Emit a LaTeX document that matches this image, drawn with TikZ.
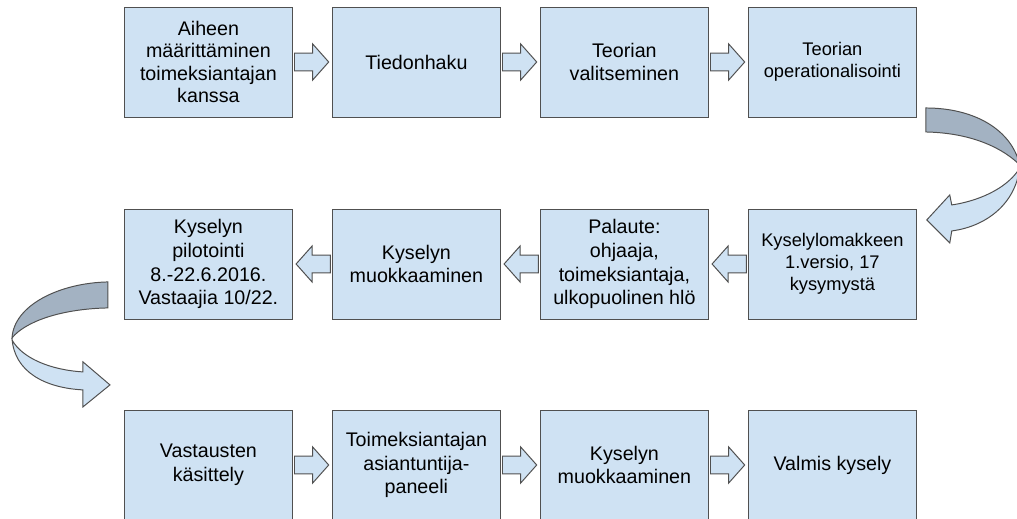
\documentclass[tikz,border=0pt]{standalone}
\usepackage{fontspec}
\setmainfont{Liberation Sans}
\usetikzlibrary{calc}
\usetikzlibrary{positioning}
\definecolor{boxblue}{HTML}{CFE2F3}
\definecolor{boxline}{HTML}{505050}
\definecolor{ribbongray}{HTML}{A3B2C2}
\tikzstyle{stepnode} = [draw=boxline, line width=0.7pt, fill=boxblue, minimum width=4.22cm, minimum height=2.75cm, align=center, inner sep=1pt, font=\fontsize{14}{17}\selectfont]
\tikzstyle{smalltext} = [font=\fontsize{13}{15.5}\selectfont]
\tikzstyle{arrowfill} = [draw=boxline, line width=0.7pt, fill=boxblue, line join=miter]
\tikzstyle{ribbonback} = [draw=boxline, line width=0.7pt, fill=ribbongray]
\newcommand{\flowarrow}[2]{%
  \coordinate (fa_s) at ($(#1)!0.03cm!(#2)$);
  \coordinate (fa_t) at ($(#2)!0.07cm!(#1)$);
  \coordinate (fa_h) at ($(fa_t)!0.4cm!(fa_s)$);
  \draw[arrowfill] ($(fa_s)!0.22cm!90:(fa_t)$) -- ($(fa_h)!0.22cm!90:(fa_t)$)
    -- ($(fa_h)!0.45cm!90:(fa_t)$) -- (fa_t) -- ($(fa_h)!0.45cm!-90:(fa_t)$)
    -- ($(fa_h)!0.22cm!-90:(fa_t)$) -- ($(fa_s)!0.22cm!-90:(fa_t)$) -- cycle;
}

\begin{document}
\begin{tikzpicture}
\useasboundingbox (0,0) rectangle (25.425,12.95);

% first row
\node[stepnode, font=\fontsize{14}{15.8}\selectfont] (aiheen) at (5.21,11.4) {Aiheen\\määrittäminen\\toimeksiantajan\\kanssa};
\node[stepnode] (tiedonhaku) at ($(aiheen)+(5.2,0)$) {Tiedonhaku};
\node[stepnode] (valinta) at ($(tiedonhaku)+(5.2,0)$) {Teorian\\valitseminen};
\node[stepnode, smalltext] (operationalisointi) at ($(valinta)+(5.2,0)$) {Teorian\\operationalisointi};

% second row
\node[stepnode, smalltext] (versio1) at ($(operationalisointi)+(0,-5.05)$) {Kyselylomakkeen\\1.versio, 17\\kysymystä};
\node[stepnode] (palaute) at ($(versio1)+(-5.2,0)$) {Palaute:\\ohjaaja,\\toimeksiantaja,\\ulkopuolinen hlö};
\node[stepnode] (muokkaus1) at ($(palaute)+(-5.2,0)$) {Kyselyn\\muokkaaminen};
\node[stepnode] (pilotointi) at ($(muokkaus1)+(-5.2,0)$) {Kyselyn\\pilotointi\\8.-22.6.2016.\\Vastaajia 10/22.};

% third row
\node[stepnode] (vastaukset) at ($(pilotointi)+(0,-5.025)$) {Vastausten\\käsittely};
\node[stepnode] (paneeli) at ($(vastaukset)+(5.2,0)$) {Toimeksiantajan\\asiantuntija-\\paneeli};
\node[stepnode] (muokkaus2) at ($(paneeli)+(5.2,0)$) {Kyselyn\\muokkaaminen};
\node[stepnode] (valmis) at ($(muokkaus2)+(5.2,0)$) {Valmis kysely};

\flowarrow{aiheen.east}{tiedonhaku.west}
\flowarrow{tiedonhaku.east}{valinta.west}
\flowarrow{valinta.east}{operationalisointi.west}
\flowarrow{versio1.west}{palaute.east}
\flowarrow{palaute.west}{muokkaus1.east}
\flowarrow{muokkaus1.west}{pilotointi.east}
\flowarrow{vastaukset.east}{paneeli.west}
\flowarrow{paneeli.east}{muokkaus2.west}
\flowarrow{muokkaus2.east}{valmis.west}

% curved arrows, in pixel units
\begin{scope}[x=0.025cm, y=-0.025cm, shift={(0,12.95cm)}]
  \draw[ribbonback] (926,108) .. controls (975,108) and (1012,130) .. (1020,165)
    .. controls (1005,150) and (975,133) .. (926,132) -- cycle;
  \draw[arrowfill] (1020,165) .. controls (1018,200) and (990,226) .. (952,231)
    -- (950,243) -- (927,220) -- (950,195) -- (952,205)
    .. controls (985,200) and (1010,185) .. (1020,168) -- cycle;
  \draw[ribbonback] (108,282) .. controls (60,283) and (14,305) .. (12,338)
    .. controls (25,322) and (60,309) .. (108,308) -- cycle;
  \draw[arrowfill] (12,338) .. controls (14,372) and (45,388) .. (83,390)
    -- (83,407) -- (110,385) -- (83,362) -- (83,372)
    .. controls (50,370) and (22,358) .. (12,340) -- cycle;
\end{scope}
\end{tikzpicture}
\end{document}
